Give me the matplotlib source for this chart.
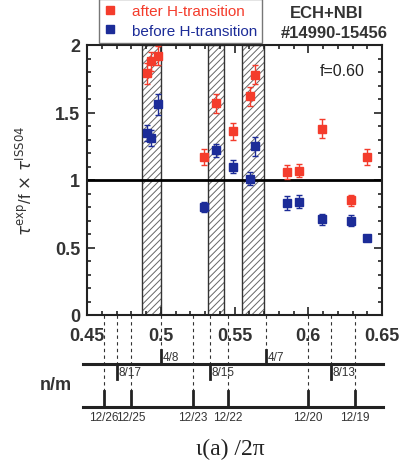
import matplotlib
matplotlib.use("Agg")
import matplotlib.pyplot as plt
import matplotlib.transforms as mtransforms
from matplotlib.lines import Line2D

plt.rcParams['font.family'] = ['Liberation Sans', 'DejaVu Sans']
plt.rcParams['hatch.linewidth'] = 0.7

# data
x_pts = [0.4905, 0.4934, 0.4979, 0.5295, 0.5373, 0.5492, 0.5607,
         0.5639, 0.5858, 0.5939, 0.6093, 0.6288, 0.6400]
tau_after = [1.79, 1.88, 1.92, 1.17, 1.57, 1.36, 1.62,
             1.78, 1.06, 1.07, 1.38, 0.85, 1.17]
err_after = [0.08, 0.07, 0.07, 0.06, 0.07, 0.06, 0.07,
             0.07, 0.05, 0.05, 0.07, 0.04, 0.06]
tau_before = [1.35, 1.31, 1.56, 0.80, 1.22, 1.10, 1.01,
              1.25, 0.83, 0.84, 0.71, 0.70, 0.57]
err_before = [0.06, 0.06, 0.08, 0.04, 0.05, 0.05, 0.05,
              0.07, 0.05, 0.05, 0.04, 0.04, 0.01]

# rational surfaces n/m
res4_val = [4 / 8, 4 / 7]
res4_lab = ['4/8', '4/7']
res8_val = [8 / 17, 8 / 15, 8 / 13]
res8_lab = ['8/17', '8/15', '8/13']
res12_val = [12 / 26, 12 / 25, 12 / 23, 12 / 22, 12 / 20, 12 / 19]
res12_lab = ['12/26', '12/25', '12/23', '12/22', '12/20', '12/19']

# hatched bands
bands = [(0.4875, 0.5002), (0.5322, 0.5431), (0.5551, 0.5702)]

red = '#f43c2c'
blue = '#1c2c98'
gray = '#333333'

fig = plt.figure(figsize=(4.06, 4.64), dpi=100)
ax = fig.add_axes([87 / 406, 1 - 316 / 464, 295 / 406, 270 / 464])

for a, b in bands:
    # light hatch, then a darker outline
    ax.axvspan(a, b, facecolor='white', edgecolor='#666666', hatch='/////',
               linewidth=0, zorder=1)
    ax.axvspan(a, b, facecolor='none', edgecolor='#333333', linewidth=1.0,
               zorder=1)

ax.axhline(1.0, color='black', linewidth=2, zorder=2)

ax.errorbar(x_pts, tau_after, yerr=err_after, fmt='s', color=red, ms=6,
            elinewidth=1, capsize=2.5, zorder=4)
ax.errorbar(x_pts, tau_before, yerr=err_before, fmt='s', color=blue, ms=6,
            elinewidth=1, capsize=2.5, zorder=4)

ax.set_xlim(0.45, 0.65)
ax.set_ylim(0, 2)
ax.set_xticks([0.45, 0.5, 0.55, 0.6, 0.65])
ax.set_xticklabels(['0.45', '0.5', '0.55', '0.6', '0.65'])
ax.set_xticks([0.45 + 0.01 * i for i in range(21)], minor=True)
ax.set_yticks([0, 0.5, 1, 1.5, 2])
ax.set_yticklabels(['0', '0.5', '1', '1.5', '2'])
ax.set_yticks([0.1 * i for i in range(21)], minor=True)
ax.tick_params(which='both', direction='in', top=True, right=True,
               width=1.2, colors='#222222', labelcolor=gray)
ax.tick_params(which='major', length=6, labelsize=13)
ax.tick_params(axis='x', which='major', pad=9)
ax.tick_params(axis='y', which='major', pad=5)
ax.tick_params(which='minor', length=3)
for lbl in ax.get_xticklabels() + ax.get_yticklabels():
    lbl.set_fontweight('bold')
for sp in ax.spines.values():
    sp.set_linewidth(1.5)
    sp.set_color('#222222')

ax.set_ylabel(r'$\tau^{\rm exp}$/f $\times$ $\tau^{\rm ISS04}$', fontsize=12,
              color=gray, labelpad=14)
ax.text(0.94, 0.905, 'f=0.60', transform=ax.transAxes, ha='right', va='center',
        fontsize=11.5, color='#222222')

handles = [Line2D([], [], ls='none', marker='s', ms=6, color=red),
           Line2D([], [], ls='none', marker='s', ms=6, color=blue)]
leg = fig.legend(handles, ['after H-transition', 'before H-transition'],
                 loc='upper left', bbox_to_anchor=(99 / 406, 1.0),
                 frameon=True, fancybox=False, edgecolor='#555555',
                 fontsize=11, labelcolor=[red, blue], handlelength=0.8,
                 handletextpad=1.0, borderpad=0.35, labelspacing=0.35,
                 borderaxespad=0)
leg.get_frame().set_linewidth(1.0)

fig.text(327 / 406, 1 - 13 / 464, 'ECH+NBI', ha='center', va='center',
         fontsize=12, fontweight='bold', color=gray)
fig.text(334 / 406, 1 - 33 / 464, '#14990-15456', ha='center', va='center',
         fontsize=12, fontweight='bold', color=gray)

# n/m ruler below the axis
tr = mtransforms.blended_transform_factory(ax.transData, fig.transFigure)
trax = mtransforms.blended_transform_factory(ax.transAxes, fig.transFigure)


def fy(p):
    return 1 - p / 464


y_ax = fy(316)
y_l1 = fy(365)
y_l2 = fy(408)

for yl in (y_l1, y_l2):
    fig.add_artist(Line2D([-0.014, 1.004], [yl, yl], transform=trax,
                          color='#222222', linewidth=2.2))

for v, t in zip(res4_val, res4_lab):
    fig.add_artist(Line2D([v, v], [y_ax, fy(351)], transform=tr,
                          color='#333333', lw=0.8, ls=(0, (3, 3)), zorder=0))
    fig.add_artist(Line2D([v, v], [fy(351), y_l1], transform=tr,
                          color='#222222', lw=2))
    fig.text(v + 0.001, fy(358), t, transform=tr, ha='left', va='center',
             fontsize=8.5, color=gray)

for v, t in zip(res8_val, res8_lab):
    fig.add_artist(Line2D([v, v], [y_ax, y_l1], transform=tr,
                          color='#333333', lw=0.8, ls=(0, (3, 3)), zorder=0))
    fig.add_artist(Line2D([v, v], [y_l1, fy(380)], transform=tr,
                          color='#222222', lw=2))
    fig.text(v + 0.001, fy(373), t, transform=tr, ha='left', va='center',
             fontsize=8.5, color=gray)

for v, t in zip(res12_val, res12_lab):
    fig.add_artist(Line2D([v, v], [y_ax, fy(392)], transform=tr,
                          color='#333333', lw=0.8, ls=(0, (3, 3)), zorder=0))
    fig.add_artist(Line2D([v, v], [fy(392), y_l2], transform=tr,
                          color='#222222', lw=2))
    fig.text(v, fy(418), t, transform=tr, ha='center', va='center',
             fontsize=8.5, color=gray)

fig.text(56 / 406, fy(386), 'n/m', ha='center', va='center', fontsize=13,
         fontweight='bold', color=gray)
fig.text(230 / 406, fy(449), 'ι(a) /2π', ha='center', va='center',
         fontsize=17, family=['Liberation Serif', 'DejaVu Serif'], color='#222222')

fig.savefig('out.png', dpi=100)
